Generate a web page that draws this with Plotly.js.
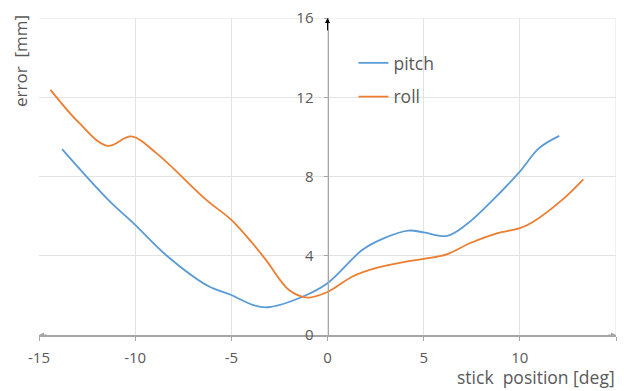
<!DOCTYPE html>
<html>
<head>
<meta charset="utf-8">
<script src="https://cdn.plot.ly/plotly-3.0.1.min.js"></script>
<style>html,body{margin:0;padding:0;background:#fff;}#chart{width:624px;height:391px;}</style>
</head>
<body>
<div id="chart"></div>
<script>
const pitchX = [-13.8, -11.4, -10, -8.4, -6.2, -5, -3.9, -3.1, -1.3, 0, 1.8, 2.8, 4.2, 5, 6.2, 7.2, 8.6, 10, 11, 12.05];
const pitchY = [9.38, 6.82, 5.56, 4.04, 2.47, 2.02, 1.52, 1.40, 1.93, 2.61, 4.29, 4.83, 5.27, 5.18, 5.0, 5.56, 6.82, 8.25, 9.43, 10.05];
const rollX = [-14.4, -12.9, -11.45, -10.2, -8.9, -6.3, -5, -3.9, -3.2, -2, -1.05, 0, 1.3, 2.5, 4.1, 5, 6.2, 7.4, 8.8, 10, 10.7, 12.2, 13.3];
const rollY = [12.37, 10.69, 9.55, 10.02, 9.18, 6.82, 5.81, 4.63, 3.79, 2.27, 1.89, 2.17, 2.95, 3.37, 3.70, 3.84, 4.07, 4.63, 5.13, 5.39, 5.72, 6.82, 7.86];
const xTicks = [-15, -10, -5, 0, 5, 10, 15];
const yTicks = [0, 4, 8, 12, 16];
const seriesNames = ['pitch', 'roll'];
const xTitle = 'stick  position [deg]';
const yTitle = 'error  [mm]';

const FONT = 'Open Sans, Noto Sans, sans-serif';
const TXT = '#595959';

const traces = [
  {x: pitchX, y: pitchY, name: seriesNames[0], legendgroup: 'a', mode: 'lines',
   line: {color: '#5B9BD5', width: 1.8, shape: 'spline', smoothing: 1}},
  {x: rollX, y: rollY, name: seriesNames[1], legendgroup: 'b', mode: 'lines',
   line: {color: '#ED7D31', width: 1.8, shape: 'spline', smoothing: 1}}
];

const layout = {
  width: 624, height: 391,
  margin: {l: 39, r: 8, t: 18, b: 56},
  paper_bgcolor: '#fff', plot_bgcolor: '#fff',
  font: {family: FONT, color: TXT, size: 15},
  showlegend: true,
  legend: {x: 0.545, y: 0.915, xanchor: 'left', yanchor: 'top', bgcolor: 'rgba(0,0,0,0)',
           font: {size: 17.5, color: TXT}, traceorder: 'grouped', tracegroupgap: 8, itemwidth: 30},
  xaxis: {range: [-15, 15], tickvals: xTicks, ticktext: xTicks.map(String), showgrid: true, gridcolor: '#e3e3e3',
          zeroline: false, showline: true, linecolor: '#a6a6a6', linewidth: 1.5,
          ticks: 'outside', ticklen: 4, tickcolor: '#a6a6a6', ticklabelstandoff: 4,
          tickfont: {size: 15, color: TXT}, fixedrange: true},
  yaxis: {range: [0, 16], tickvals: yTicks, ticktext: yTicks.map(String), showgrid: true, gridcolor: '#e3e3e3',
          zeroline: false, showline: true, linecolor: '#a6a6a6', linewidth: 1.5,
          anchor: 'free', position: 0.5,
          ticks: 'outside', ticklen: 4, tickcolor: '#a6a6a6', ticklabelstandoff: 7,
          tickfont: {size: 15, color: TXT}, fixedrange: true},
  shapes: [
    {type: 'line', xref: 'x', yref: 'y', x0: 15, x1: 15, y0: 0, y1: 16, line: {color: '#e3e3e3', width: 1}, layer: 'below'},
    {type: 'line', xref: 'x', yref: 'y', x0: -15, x1: 15, y0: 16, y1: 16, line: {color: '#e3e3e3', width: 1}, layer: 'below'}
  ],
  annotations: [
    {x: 0, y: 16, ax: 0, ay: 15.3, xref: 'x', yref: 'y', axref: 'x', ayref: 'y', text: '',
     showarrow: true, arrowhead: 2, arrowsize: 1, arrowwidth: 1, arrowcolor: '#000'},
    {x: 15, y: 0, ax: 14.5, ay: 0, xref: 'x', yref: 'y', axref: 'x', ayref: 'y', text: '',
     showarrow: true, arrowhead: 2, arrowsize: 1, arrowwidth: 1, arrowcolor: '#a6a6a6'},
    {x: -15, y: 0, ax: -14.5, ay: 0, xref: 'x', yref: 'y', axref: 'x', ayref: 'y', text: '',
     showarrow: true, arrowhead: 2, arrowsize: 1, arrowwidth: 1, arrowcolor: '#a6a6a6'},
    {x: 1, y: 0, xref: 'paper', yref: 'paper', yshift: -55, xanchor: 'right', yanchor: 'bottom',
     text: xTitle, showarrow: false, font: {size: 17.5, color: TXT}, borderpad: 0},
    {x: 20, y: 61, xref: 'paper', yref: 'paper', text: yTitle, showarrow: false, textangle: -90,
     font: {size: 17, color: TXT}}
  ]
};
const pw = 624 - 39 - 8, ph = 391 - 18 - 56;
layout.annotations[4].x = (20 - 39) / pw;
layout.annotations[4].y = (391 - 56 - 61) / ph;
layout.annotations[4].xanchor = 'center';
layout.annotations[4].yanchor = 'middle';

Plotly.newPlot('chart', traces, layout, {displayModeBar: false, staticPlot: true});
</script>
</body>
</html>
